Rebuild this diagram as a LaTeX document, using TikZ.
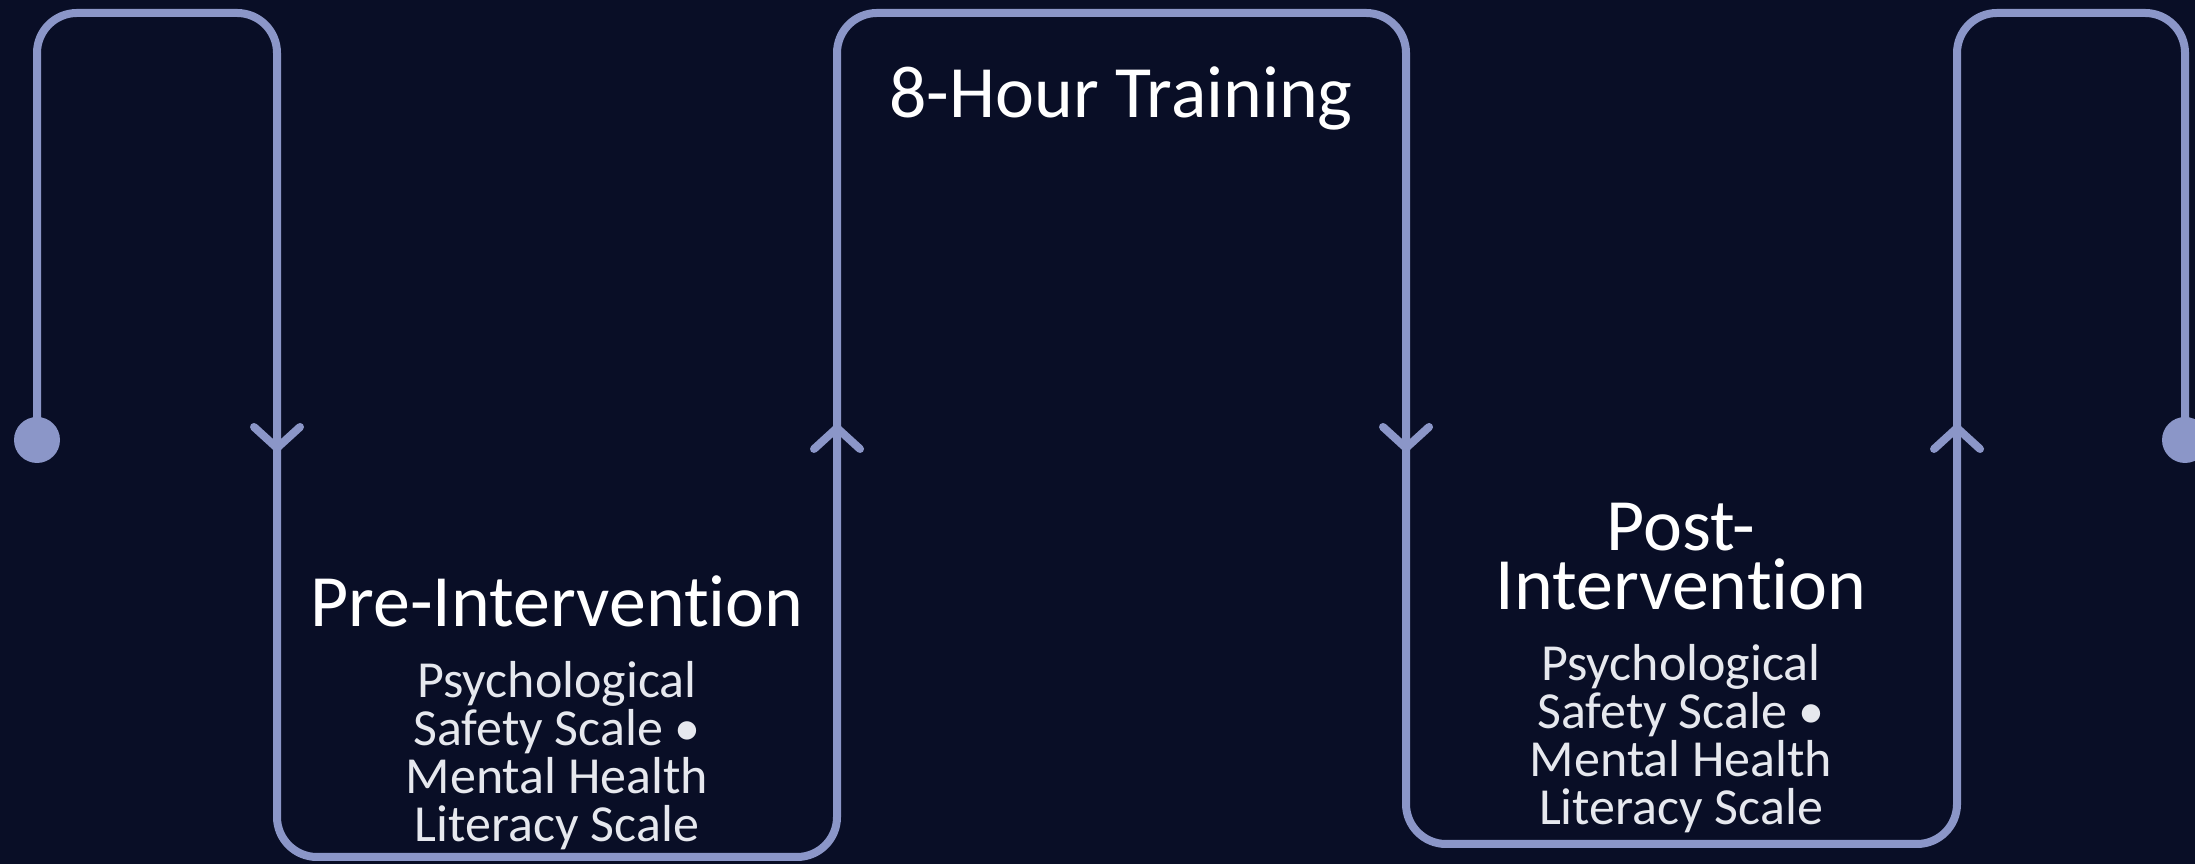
\documentclass[tikz,border=0pt]{standalone}
\usepackage{fontspec}
\setmainfont[RawFeature={-liga;-clig;-calt;-dlig}]{Carlito}
\definecolor{bgnavy}{RGB}{9,14,38}
\definecolor{flowblue}{RGB}{139,150,200}
\definecolor{bodygrey}{RGB}{230,232,238}
\begin{document}
\begin{tikzpicture}[
  flow/.style={draw=flowblue,line width=0.08cm,line cap=round,line join=round},
  head/.style={text=white,inner sep=0pt,align=center,font=\fontsize{21}{17}\selectfont},
  body/.style={text=bodygrey,inner sep=0pt,align=center,font=\fontsize{14.8}{13.6}\selectfont}]
\useasboundingbox[fill=bgnavy](0,0) rectangle (21.95,8.64);
\coordinate (start) at (0.37,4.24);
\coordinate (stop) at (21.85,4.24);
\draw[flow,rounded corners=0.4cm](start)|-(2.77,8.51)|-(8.37,0.07)|-(14.06,8.51)|-(19.57,0.20)|-(21.85,8.51)--(stop);
\fill[flowblue](start) circle (0.23);
\fill[flowblue](stop) circle (0.23);
\foreach \x in {2.77,14.06}{\draw[flow](\x-0.23,4.37)--(\x,4.16)--(\x+0.23,4.37);}
\foreach \x in {8.37,19.57}{\draw[flow](\x-0.23,4.15)--(\x,4.36)--(\x+0.23,4.15);}
\node[head,anchor=base](train) at (11.21,7.46){8-Hour Training};
\node[head,anchor=base](pre) at (5.57,2.37){Pre-Intervention};
\node[body,anchor=north](prescales) at (5.57,2.03){Psychological\\Safety Scale •\\Mental Health\\Literacy Scale};
\node[head,anchor=north](post) at (16.81,3.62){Post-\\Intervention};
\node[body,anchor=north](postscales) at (16.81,2.20){Psychological\\Safety Scale •\\Mental Health\\Literacy Scale};
\end{tikzpicture}
\end{document}
